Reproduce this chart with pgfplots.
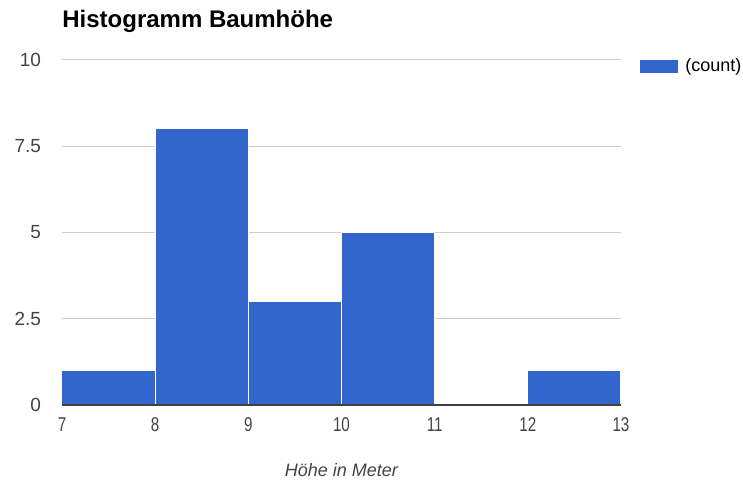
\documentclass[border=0pt]{standalone}
\usepackage{fontspec}
\setmainfont{Liberation Sans}
\usepackage{pgfplots}
\pgfplotsset{compat=1.18}
\definecolor{gblue}{HTML}{3366CC}
\definecolor{ggrid}{HTML}{CCCCCC}
\definecolor{gtick}{HTML}{444444}
\begin{document}
\begin{tikzpicture}
\path[use as bounding box] (0,0) rectangle (371.5pt,242.5pt);
\begin{axis}[
  at={(31pt,40pt)}, anchor=south west,
  scale only axis, width=279.5pt, height=172.5pt,
  xmin=7, xmax=13, ymin=0, ymax=10,
  xtick={7,8,9,10,11,12,13},
  ytick={0,2.5,5,7.5,10},
  yticklabels={0,2.5,5,7.5,10},
  xticklabel={\scalebox{0.8}[1.05]{\pgfmathprintnumber[assume math mode=true]{\tick}}},
  axis line style={draw=none},
  major tick length=0pt,
  ymajorgrids, grid style={ggrid, line width=0.5pt},
  tick label style={font=\fontsize{9.5}{11}\selectfont, text=gtick},
  /pgf/number format/assume math mode=true,
  yticklabel style={anchor=east, xshift=-7pt},
  xticklabel style={anchor=north, yshift=-3pt},
  xlabel={\itshape Höhe in Meter},
  xlabel style={at={(axis description cs:0.5,-0.188)}, anchor=center, font=\fontsize{9}{11}\selectfont, text=gtick},
  title={Histogramm Baumhöhe},
  title style={at={(axis description cs:0,1)}, anchor=base west, inner sep=0pt, yshift=10.2pt, font=\fontsize{12}{14}\selectfont\bfseries},
  legend style={at={(axis description cs:1.034,0.98)}, anchor=west, draw=none, fill=none, font=\fontsize{9}{11}\selectfont, inner sep=0pt, row sep=0pt, column sep=1.5pt},
  legend image code/.code={\fill[gblue] (0pt,-3pt) rectangle (18.5pt,3pt);},
  clip=false,
]
\addplot[ybar interval, fill=gblue, draw=white, line width=0.5pt] coordinates {(7,1) (8,8) (9,3) (10,5) (11,0) (12,1) (13,1)};
\addlegendentry{(count)}
\addplot[forget plot, draw=black!75, line width=0.6pt] coordinates {(7,0) (13,0)};
\end{axis}
\end{tikzpicture}
\end{document}
